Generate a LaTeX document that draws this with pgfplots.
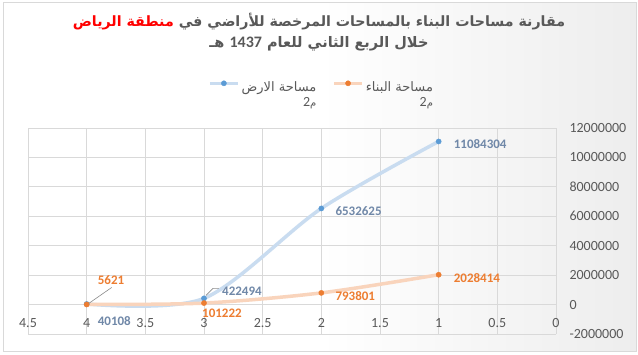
\documentclass[border=0pt]{standalone}
\usepackage{pgfplots}
\pgfplotsset{compat=1.18}
\usepackage{fontspec}
\setmainfont{Carlito}
\newfontfamily\arabicfont[Script=Arabic]{DejaVu Sans}
\TeXXeTstate=1
\definecolor{bluem}{HTML}{5B9BD5}
\definecolor{bluel}{HTML}{C9DCF0}
\definecolor{orangem}{HTML}{ED7D31}
\definecolor{orangel}{HTML}{F9D4BC}
\definecolor{bluetxt}{HTML}{7088A8}
\definecolor{txtgray}{HTML}{595959}
\definecolor{gridgray}{HTML}{D9D9D9}
\begin{document}
\begin{tikzpicture}[x=1pt,y=1pt]
\useasboundingbox (0,0) rectangle (638,354);
\shade[left color=white, right color=black!7, middle color=white] (3,3) rectangle (636,351);
\draw[black!15, line width=1pt] (3,3) rectangle (636,351);
\node[font=\arabicfont\bfseries\fontsize{14.2}{16}\selectfont, inner sep=0] at (319,332)
  {\textcolor{red}{\beginR منطقة الرياض\endR}\ \textcolor{txtgray}{\beginR مقارنة مساحات البناء بالمساحات المرخصة للأراضي في\endR}};
\node[font=\arabicfont\bfseries\fontsize{14.5}{16}\selectfont, text=txtgray, inner sep=0] at (319,310)
  {\mbox{\beginR هـ\endR}\ {\fontspec{Carlito}\bfseries\fontsize{16}{18}\selectfont 1437}\ \mbox{\beginR خلال الربع الثاني للعام\endR}};
\begin{axis}[
  at={(292pt,123pt)}, anchor=center,
  scale only axis, width=528pt, height=206pt,
  x dir=reverse,
  xmin=0, xmax=4.5, ymin=-2000000, ymax=12000000,
  scaled ticks=false,
  xtick={0,0.5,1,1.5,2,2.5,3,3.5,4,4.5},
  xticklabels={0,0.5,1,1.5,2,2.5,3,3.5,4,4.5},
  ytick={-2000000,0,2000000,4000000,6000000,8000000,10000000,12000000},
  yticklabels={-2000000,0,2000000,4000000,6000000,8000000,10000000,12000000},
  yticklabel pos=right,
  grid=major,
  grid style={color=gridgray, line width=0.8pt},
  axis line style={draw=none},
  major tick length=0pt,
  tick label style={font=\fontsize{14}{16}\selectfont, text=txtgray},
  xticklabel style={anchor=center, yshift=11pt},
  yticklabel style={anchor=west, xshift=10pt},
  legend style={at={(axis description cs:0.556,1.2)}, anchor=center, draw=none, fill=none,
    font=\arabicfont\fontsize{13}{15}\selectfont, text=txtgray,
    /tikz/every even column/.append style={column sep=14pt}},
  legend columns=2,
  legend image code/.code={\draw[#1, mark repeat=2, mark phase=2] plot coordinates {(0pt,3.5pt) (14pt,3.5pt) (28pt,3.5pt)};},
  clip=false,
]
\addplot[smooth, color=bluel, line width=3.5pt, mark=*, mark size=2.6pt, mark options={solid, fill=bluem, draw=bluem, line width=0.4pt}]
  coordinates {(4,40108) (3,422494) (2,6532625) (1,11084304)};
\addlegendentry{\begin{tabular}[t]{@{}r@{}}\beginR مساحة الارض\endR\\{\fontspec{Carlito}\fontsize{14}{16}\selectfont 2}{\fontsize{10}{12}\selectfont م}\hspace{5pt}\end{tabular}}
\addplot[smooth, color=orangel, line width=3.5pt, mark=*, mark size=2.6pt, mark options={solid, fill=orangem, draw=orangem, line width=0.4pt}]
  coordinates {(4,5621) (3,101222) (2,793801) (1,2028414)};
\addlegendentry{\begin{tabular}[t]{@{}r@{}}\beginR مساحة البناء\endR\\{\fontspec{Carlito}\fontsize{14}{16}\selectfont 2}{\fontsize{10}{12}\selectfont م}\hspace{2pt}\end{tabular}}
\tikzset{lab/.style={font=\bfseries\fontsize{13}{15}\selectfont, inner sep=0, anchor=west}}
\node[lab, text=bluetxt, xshift=15pt, yshift=-3pt] at (axis cs:1,11084304) {11084304};
\node[lab, text=bluetxt, xshift=14pt, yshift=-3pt] at (axis cs:2,6532625) {6532625};
\node[lab, text=bluetxt, xshift=18pt, yshift=7pt] at (axis cs:3,422494) {422494};
\draw[black!45, line width=0.6pt] (axis cs:3,422494) ++(2pt,3pt) -- ++(7pt,7pt) -- ++(6pt,0pt);
\node[lab, text=bluetxt, xshift=11pt, yshift=-17pt] at (axis cs:4,40108) {40108};
\node[lab, text=orangem, xshift=15pt, yshift=-3pt] at (axis cs:1,2028414) {2028414};
\node[lab, text=orangem, xshift=14pt, yshift=-3pt] at (axis cs:2,793801) {793801};
\node[lab, text=orangem, xshift=-2pt, yshift=-10pt] at (axis cs:3,101222) {101222};
\node[lab, text=orangem, xshift=11pt, yshift=24pt] at (axis cs:4,5621) {5621};
\draw[black!45, line width=0.6pt] (axis cs:4,5621) ++(2pt,1pt) -- ++(23pt,16pt);
\end{axis}
\end{tikzpicture}
\end{document}
